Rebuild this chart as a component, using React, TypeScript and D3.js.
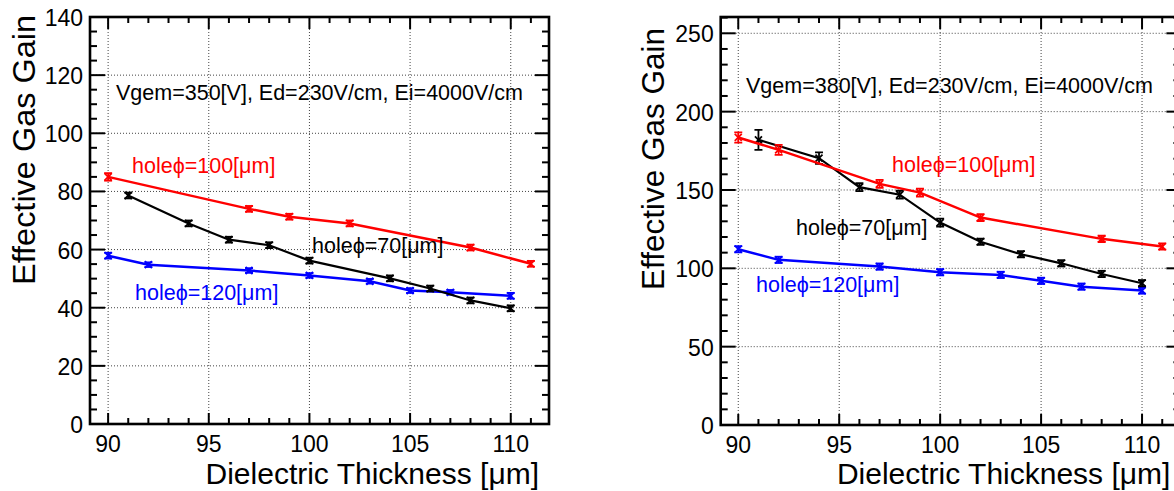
import React from "react";
import * as d3 from "d3";

// ---------- DATA ----------
// Left panel: Vgem = 350 V
const leftX100 = [90, 97, 99, 102, 108, 111];
const leftY100 = [85, 74, 71.3, 69, 60.7, 55.1];
const leftE100 = [1.3, 1, 1, 1, 1, 1];
const leftX70 = [91, 94, 96, 98, 100, 104, 106, 108, 110];
const leftY70 = [78.6, 69, 63.4, 61.5, 56.2, 50.1, 46.6, 42.5, 39.8];
const leftE70 = [1, 1, 1, 1, 1, 1, 1, 1, 1];
const leftX120 = [90, 92, 97, 100, 103, 105, 107, 110];
const leftY120 = [57.9, 54.8, 52.8, 51.1, 49.1, 45.9, 45.3, 44.1];
const leftE120 = [1, 0.8, 0.8, 0.8, 0.8, 0.8, 0.8, 1];

// Right panel: Vgem = 380 V
const rightX100 = [90, 92, 97, 99, 102, 108, 111];
const rightY100 = [183.5, 175.6, 153.9, 148.3, 132.4, 118.8, 113.9];
const rightE100 = [3.3, 3.2, 2.5, 2.5, 2.2, 2, 2];
const rightX70 = [91, 94, 96, 98, 100, 102, 104, 106, 108, 110];
const rightY70 = [182, 170.3, 151.8, 147, 129.2, 117, 109, 103.2, 96.4, 90.5];
const rightE70 = [6.4, 3.7, 2.5, 2.5, 2.5, 2, 2, 2, 2, 2];
const rightX120 = [90, 92, 97, 100, 103, 105, 107, 110];
const rightY120 = [112.2, 105.4, 101.1, 97.5, 95.8, 92, 88.3, 85.8];
const rightE120 = [2, 2, 2, 2, 2, 2, 2, 2];

const xTicks = [90, 95, 100, 105, 110];
const leftYTicks = [0, 20, 40, 60, 80, 100, 120, 140];
const rightYTicks = [0, 50, 100, 150, 200, 250];

const FONT = "'Liberation Sans', Arial, Helvetica, sans-serif";

type Series = { xs: number[]; ys: number[]; es: number[]; color: string; width: number };

function Panel(props: {
  x0: number; x1: number; y0: number; y1: number;
  xDom: [number, number]; yDom: [number, number];
  yTicks: number[]; yMinorStep: number;
  series: Series[];
  annotation: { text: string; x: number; y: number };
  labels: { text: string; x: number; y: number; color: string }[];
  yTitle: { x: number; y: number; len: number };
  clipId: string;
}) {
  const { x0, x1, y0, y1, xDom, yDom, yTicks, yMinorStep, series, annotation, labels, yTitle, clipId } = props;
  const x = d3.scaleLinear().domain(xDom).range([x0, x1]);
  const y = d3.scaleLinear().domain(yDom).range([y1, y0]);
  const xMinor = d3.range(Math.ceil(xDom[0]), Math.floor(xDom[1]) + 1).filter((v) => !xTicks.includes(v));
  const yMinor = d3.range(0, yDom[1] + 0.001, yMinorStep).filter((v) => !yTicks.includes(v));
  const line = d3.line<[number, number]>().x((d) => x(d[0])).y((d) => y(d[1]));
  return (
    <g>
      <defs>
        <clipPath id={clipId}>
          <rect x={x0} y={y0} width={x1 - x0} height={y1 - y0} />
        </clipPath>
      </defs>
      {/* grid */}
      <g stroke="#444" strokeWidth={1} strokeDasharray="1,2">
        {xTicks.map((t) => (
          <line key={"gx" + t} x1={x(t)} x2={x(t)} y1={y0} y2={y1} />
        ))}
        {yTicks.filter((t) => t > 0).map((t) => (
          <line key={"gy" + t} x1={x0} x2={x1} y1={y(t)} y2={y(t)} />
        ))}
      </g>
      {/* ticks */}
      <g stroke="#000" strokeWidth={2}>
        {xTicks.map((t) => (
          <g key={"tx" + t}>
            <line x1={x(t)} x2={x(t)} y1={y1} y2={y1 - 11} />
            <line x1={x(t)} x2={x(t)} y1={y0} y2={y0 + 12} />
          </g>
        ))}
        {xMinor.map((t) => (
          <g key={"mx" + t}>
            <line x1={x(t)} x2={x(t)} y1={y1} y2={y1 - 6} />
            <line x1={x(t)} x2={x(t)} y1={y0} y2={y0 + 6} />
          </g>
        ))}
        {yTicks.map((t) => (
          <g key={"ty" + t}>
            <line x1={x0} x2={x0 + 15} y1={y(t)} y2={y(t)} />
            <line x1={x1} x2={x1 - 14} y1={y(t)} y2={y(t)} />
          </g>
        ))}
        {yMinor.map((t) => (
          <g key={"my" + t}>
            <line x1={x0} x2={x0 + 7} y1={y(t)} y2={y(t)} />
            <line x1={x1} x2={x1 - 7} y1={y(t)} y2={y(t)} />
          </g>
        ))}
      </g>
      {/* data */}
      <g clipPath={`url(#${clipId})`}>
        {series.map((s, i) => {
          const pts: [number, number][] = s.xs.map((v, j) => [v, s.ys[j]]);
          return (
            <g key={"s" + i} stroke={s.color} fill="none">
              <path d={line(pts) || ""} strokeWidth={s.width} />
              {pts.map((p, j) => {
                const cx = x(p[0]);
                const cy = y(p[1]);
                const yt = y(p[1] + s.es[j]);
                const yb = y(p[1] - s.es[j]);
                return (
                  <g key={j} strokeWidth={1.8}>
                    <line x1={cx} x2={cx} y1={yt} y2={yb} />
                    <line x1={cx - 4} x2={cx + 4} y1={yt} y2={yt} />
                    <line x1={cx - 4} x2={cx + 4} y1={yb} y2={yb} />
                    <line x1={cx - 3.5} x2={cx + 3.5} y1={cy - 3.5} y2={cy + 3.5} />
                    <line x1={cx - 3.5} x2={cx + 3.5} y1={cy + 3.5} y2={cy - 3.5} />
                  </g>
                );
              })}
            </g>
          );
        })}
      </g>
      {/* frame */}
      <rect x={x0} y={y0} width={x1 - x0} height={y1 - y0} fill="none" stroke="#000" strokeWidth={2.6} />
      {/* tick labels */}
      <g fontFamily={FONT} fontSize={23} fill="#000">
        {xTicks.map((t) => (
          <text key={"lx" + t} x={x(t)} y={y1 + 28} textAnchor="middle">{t}</text>
        ))}
        {yTicks.map((t) => (
          <text key={"ly" + t} x={x0 - 7} y={y(t) + 9} textAnchor="end">{t}</text>
        ))}
      </g>
      {/* axis titles */}
      <text x={x1 - 10} y={484} textAnchor="end" fontFamily={FONT} fontSize={30} fill="#000">
        Dielectric Thickness [μm]
      </text>
      <text
        transform={`translate(${yTitle.x},${yTitle.y}) rotate(-90)`}
        textAnchor="end"
        fontFamily={FONT}
        fontSize={31}
        fill="#000"
        textLength={yTitle.len}
        lengthAdjust="spacingAndGlyphs"
      >
        Effective Gas Gain
      </text>
      {/* annotation */}
      <text x={annotation.x} y={annotation.y} fontFamily={FONT} fontSize={21.5} fill="#000">
        {annotation.text}
      </text>
      {labels.map((l, i) => (
        <text key={"lab" + i} x={l.x} y={l.y} fontFamily={FONT} fontSize={21.5} fill={l.color}>
          {l.text}
        </text>
      ))}
    </g>
  );
}

export default function App() {
  return (
    <svg
      width={1174}
      height={491}
      style={{ position: "fixed", left: 0, top: 0, background: "#fff" }}
    >
      <rect x={0} y={0} width={1174} height={491} fill="#fff" />
      <Panel
        clipId="clipL"
        x0={90}
        x1={549}
        y0={17}
        y1={424}
        xDom={[89.1, 111.9]}
        yDom={[0, 140]}
        yTicks={leftYTicks}
        yMinorStep={5}
        series={[
          { xs: leftX120, ys: leftY120, es: leftE120, color: "#0000ff", width: 2.5 },
          { xs: leftX70, ys: leftY70, es: leftE70, color: "#000000", width: 2.2 },
          { xs: leftX100, ys: leftY100, es: leftE100, color: "#ff0000", width: 2.5 },
        ]}
        annotation={{ text: "Vgem=350[V], Ed=230V/cm, Ei=4000V/cm", x: 116, y: 100 }}
        labels={[
          { text: "holeϕ=100[μm]", x: 132, y: 173, color: "#ff0000" },
          { text: "holeϕ=70[μm]", x: 312, y: 253, color: "#000000" },
          { text: "holeϕ=120[μm]", x: 135, y: 300, color: "#0000ff" },
        ]}
        yTitle={{ x: 35, y: 15, len: 270 }}
      />
      <Panel
        clipId="clipR"
        x0={720.7}
        x1={1180.4}
        y0={17}
        y1={425}
        xDom={[89.13, 111.9]}
        yDom={[0, 260.4]}
        yTicks={rightYTicks}
        yMinorStep={10}
        series={[
          { xs: rightX120, ys: rightY120, es: rightE120, color: "#0000ff", width: 2.5 },
          { xs: rightX70, ys: rightY70, es: rightE70, color: "#000000", width: 2.2 },
          { xs: rightX100, ys: rightY100, es: rightE100, color: "#ff0000", width: 2.5 },
        ]}
        annotation={{ text: "Vgem=380[V], Ed=230V/cm, Ei=4000V/cm", x: 746, y: 93 }}
        labels={[
          { text: "holeϕ=100[μm]", x: 892, y: 172, color: "#ff0000" },
          { text: "holeϕ=70[μm]", x: 796, y: 235, color: "#000000" },
          { text: "holeϕ=120[μm]", x: 756, y: 292, color: "#0000ff" },
        ]}
        yTitle={{ x: 664, y: 28, len: 262 }}
      />
    </svg>
  );
}
